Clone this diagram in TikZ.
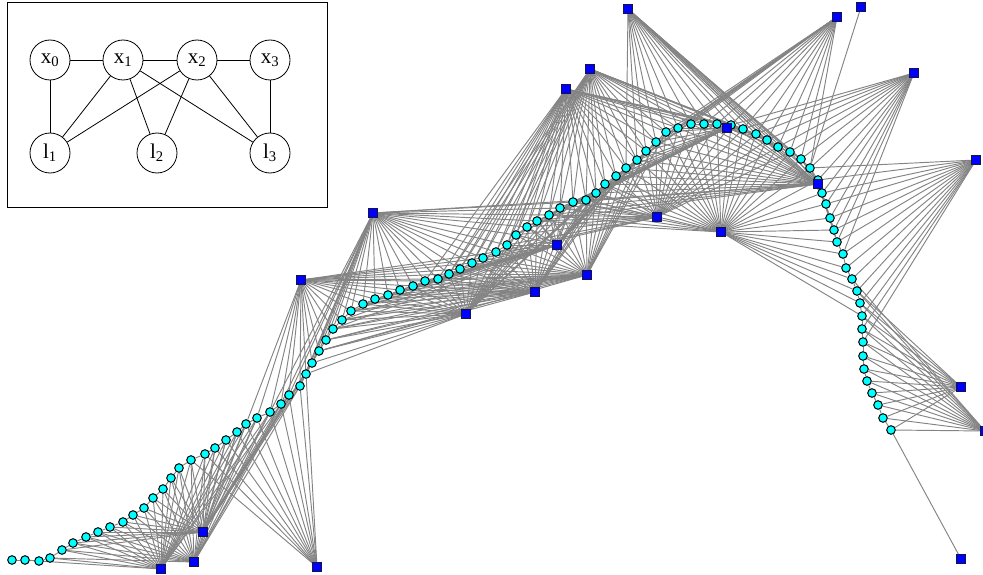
\documentclass[tikz,border=0pt]{standalone}
\usepackage{fontspec}
\setmainfont{Liberation Serif}
\definecolor{lnk}{RGB}{132,132,132}
\definecolor{posefill}{RGB}{0,255,255}
\definecolor{lmkfill}{RGB}{0,0,255}
\definecolor{lmkdraw}{RGB}{20,20,70}
\pgfdeclarelayer{bg}
\pgfsetlayers{bg,main}
\begin{document}
\begin{tikzpicture}[x=1pt,y=-1pt,
  link/.style={draw=lnk,line width=0.95pt},
  pose/.style={circle,draw=black,fill=posefill,line width=1pt,inner sep=0pt,minimum size=8.6pt},
  lmk/.style={rectangle,draw=lmkdraw,fill=lmkfill,line width=0.9pt,inner sep=0pt,minimum size=8.5pt},
  var/.style={circle,draw=black,line width=0.8pt,minimum size=40pt,inner sep=0pt,font=\fontsize{21}{21}\selectfont},
  fac/.style={draw=black,line width=0.8pt}]
\useasboundingbox (0,0) rectangle (983,575);
% poses
\foreach \i/\x/\y in {1/12/560,2/25/560,3/39/561,4/50/558,5/62/550,6/73/543,7/86/537,8/98/532,9/110/527,10/123/522,
 11/133/515,12/144/508,13/153/498,14/163/489,15/171/478,16/179/468,17/191/460,18/205/454,19/215/448,20/226/440,
 21/237/432,22/246/424,23/257/418,24/270/412,25/281/404,26/289/395,27/300/386,28/306/374,29/312/363,30/319/351,
 31/326/340,32/333/329,33/342/320,34/351/311,35/363/304,36/375/299,37/388/295,38/400/290,39/413/286,40/425/281,
 41/438/279,42/449/274,43/460/269,44/472/263,45/483/258,46/496/252,47/507/245,48/516/235,49/527/227,50/537/221,
 51/549/215,52/560/208,53/573/202,54/586/200,55/596/193,56/605/184,57/616/176,58/626/168,59/637/160,60/646/151,
 61/656/142,62/666/132,63/678/128,64/691/124,65/704/124,66/717/124,67/731/125,68/743/129,69/756/134,70/767/140,
 71/778/147,72/790/152,73/801/159,74/810/168,75/818/180,76/822/193,77/826/204,78/830/218,79/834/230,80/837/242,
 81/843/254,82/846/268,83/852/279,84/857/291,85/860/303,86/862/316,87/862/329,88/863/342,89/863/356,90/864/369,
 91/867/381,92/872/393,93/878/405,94/883/418,95/891/430}
  \node[pose] (p\i) at (\x,\y) {};
% landmarks
\foreach \j/\x/\y in {1/161/569,2/194/562,3/203/532,4/317/567,5/301/280,6/373/213,7/466/314,8/535/292,
 9/557/245,10/587/275,11/566/89,12/590/69,13/628/9,14/657/217,15/721/232,16/727/128,17/837/17,18/861/7,
 19/914/73,20/976/160,21/818/184,22/961/387,23/985/431,24/961/559}
  \node[lmk] (L\j) at (\x,\y) {};
\begin{pgfonlayer}{bg}
\foreach \i [evaluate=\i as \k using int(\i+1)] in {1,...,94}
  \draw[link] (p\i) -- (p\k);
\foreach \j/\a/\b in {1/3/25,2/4/27,3/5/30,4/17/28,5/22/46,6/24/54,7/28/56,8/30/58,9/32/62,10/30/62,
 11/40/68,12/42/70,13/58/76,14/45/72,15/50/86,16/48/72,17/57/74,18/74/74,19/67/81,20/74/88,21/50/80,
 22/84/95,23/83/95,24/95/95}
  \foreach \i in {\a,...,\b}
    \draw[link] (L\j) -- (p\i);
\end{pgfonlayer}
% inset factor graph
\draw[fill=white,line width=0.9pt] (7,2) rectangle (327,207);
\node[var] (x0) at (50,60) {x\textsubscript{0}};
\node[var] (x1) at (123,60) {x\textsubscript{1}};
\node[var] (x2) at (197,60) {x\textsubscript{2}};
\node[var] (x3) at (270,60) {x\textsubscript{3}};
\node[var] (l1) at (50,153) {l\textsubscript{1}};
\node[var] (l2) at (157,153) {l\textsubscript{2}};
\node[var] (l3) at (270,153) {l\textsubscript{3}};
\draw[fac] (x0) -- (x1);
\draw[fac] (x1) -- (x2);
\draw[fac] (x2) -- (x3);
\draw[fac] (x0) -- (l1);
\draw[fac] (x1) -- (l1);
\draw[fac] (x2) -- (l1);
\draw[fac] (x1) -- (l2);
\draw[fac] (x2) -- (l2);
\draw[fac] (x1) -- (l3);
\draw[fac] (x2) -- (l3);
\draw[fac] (x3) -- (l3);
\end{tikzpicture}
\end{document}
